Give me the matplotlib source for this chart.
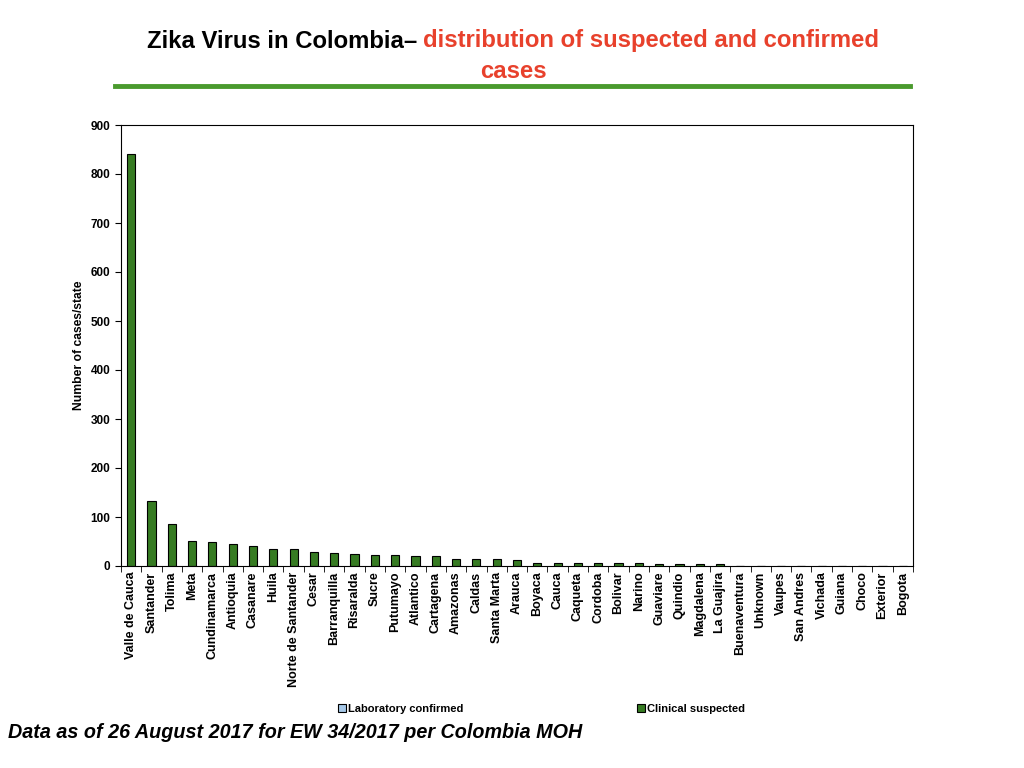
import matplotlib.pyplot as plt
import numpy as np

states = ["Valle de Cauca", "Santander", "Tolima", "Meta", "Cundinamarca", "Antioquia",
          "Casanare", "Huila", "Norte de Santander", "Cesar", "Barranquilla", "Risaralda",
          "Sucre", "Putumayo", "Atlantico", "Cartagena", "Amazonas", "Caldas", "Santa Marta",
          "Arauca", "Boyaca", "Cauca", "Caqueta", "Cordoba", "Bolivar", "Narino", "Guaviare",
          "Quindio", "Magdalena", "La Guajira", "Buenaventura", "Unknown", "Vaupes",
          "San Andres", "Vichada", "Guiana", "Choco", "Exterior", "Bogota"]
clinical = [840, 132, 85, 51, 48, 44, 40, 34, 34, 28, 26, 24, 22, 22, 20, 20, 14, 14, 14,
            12, 7, 6, 6, 6, 6, 6, 4, 4, 4, 4, 0, 0, 0, 0, 0, 0, 0, 0, 0]
lab = [0] * len(states)

plt.rcParams['font.family'] = ['Liberation Sans', 'DejaVu Sans']

fig = plt.figure(figsize=(10.24, 7.68), dpi=100)
ax = fig.add_axes([121/1024, 1-566/768, (913-121)/1024, (566-125)/768])

x = np.arange(len(states))
ax.bar(x, lab, width=0.4, color="#a6c8e8", edgecolor="black", linewidth=0.8, label="Laboratory confirmed")
ax.bar(x, clinical, width=0.4, color="#367b22", edgecolor="black", linewidth=0.8, label="Clinical suspected")

ax.set_xlim(-0.5, len(states) - 0.5)
ax.set_ylim(0, 900)
ax.set_yticks(range(0, 901, 100))
ax.set_xticks(x)
ax.set_xticklabels(states, rotation=90, fontsize=9, fontweight="bold")
ax.tick_params(axis="x", length=0, pad=4)
ax.set_xticks(np.arange(-0.5, len(states), 1), minor=True)
ax.tick_params(axis="x", which="minor", length=4, direction="out")
ax.tick_params(axis="y", labelsize=8.5, length=4)
for t in ax.get_yticklabels():
    t.set_fontweight("bold")
ax.set_ylabel("Number of cases/state", fontsize=8.7, fontweight="bold", labelpad=4)

# legend entries placed like the original
h, l = ax.get_legend_handles_labels()
fig.legend([h[0]], [l[0]], loc="center left", bbox_to_anchor=(328/1024, 1-709/768),
           frameon=False, handlelength=0.7, handleheight=0.7, handletextpad=0.2,
           prop={"size": 8, "weight": "bold"})
fig.legend([h[1]], [l[1]], loc="center left", bbox_to_anchor=(627/1024, 1-709/768),
           frameon=False, handlelength=0.7, handleheight=0.7, handletextpad=0.2,
           prop={"size": 8, "weight": "bold"})

# title
tfont = ['Liberation Sans', 'DejaVu Sans']
fig.text(417/1024, 1-41/768, "Zika Virus in Colombia\u2013", ha="right", va="center",
         fontsize=17.2, fontweight="bold", family=tfont)
fig.text(423/1024, 1-41/768, "distribution of suspected and confirmed", ha="left", va="center",
         fontsize=17.2, fontweight="bold", color="#e8412c", family=tfont)
fig.text(513/1024, 1-72/768, "cases", ha="center", va="center",
         fontsize=17.2, fontweight="bold", color="#e8412c", family=tfont)
fig.add_artist(plt.Line2D([115/1024, 910/1024], [1-86/768, 1-86/768], color="#4a9a2e", linewidth=3.5))

fig.text(8/1024, 1-733/768, "Data as of 26 August 2017 for EW 34/2017 per Colombia MOH",
         ha="left", va="center", fontsize=14.2, fontweight="bold", style="italic")

plt.savefig("out.png", dpi=100)
